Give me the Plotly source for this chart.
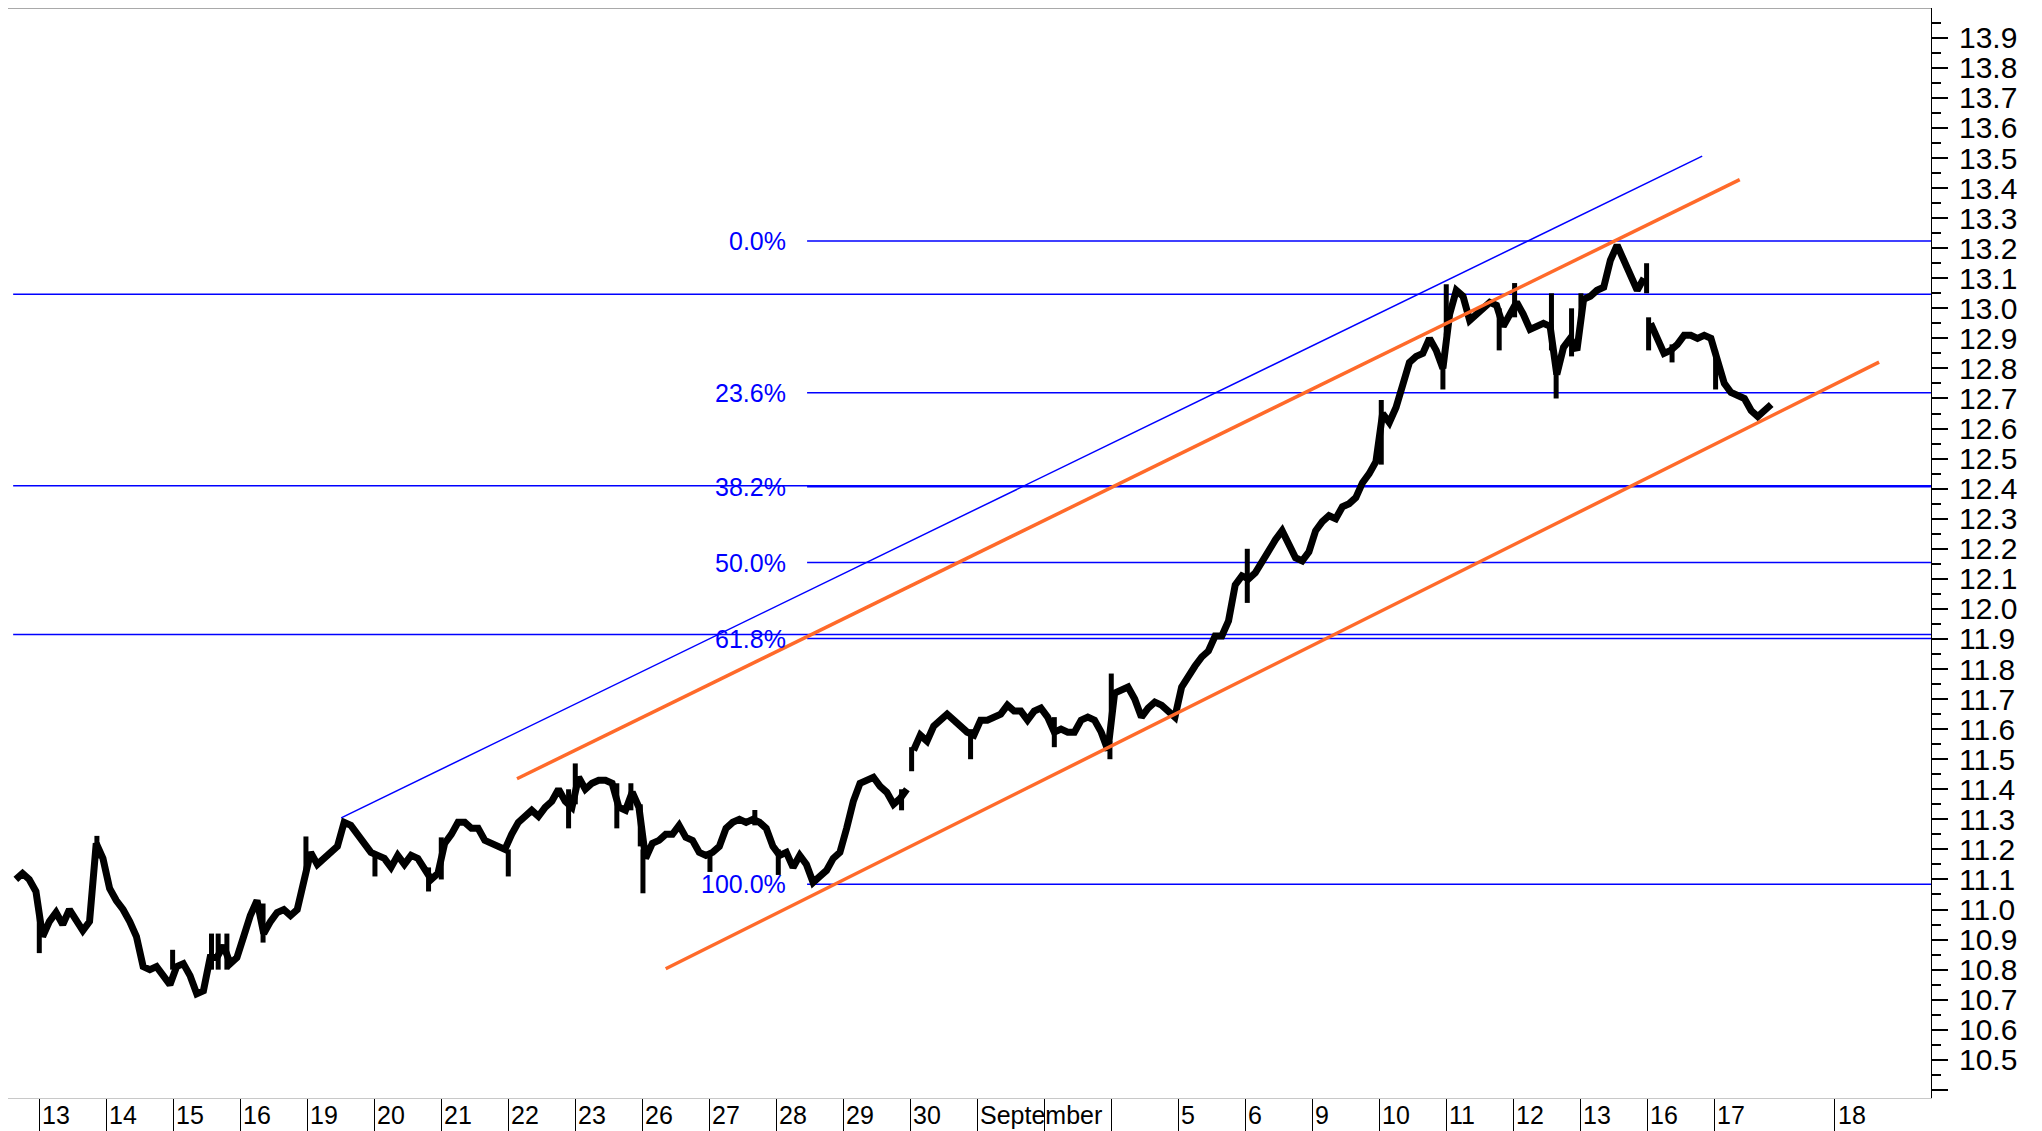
import plotly.graph_objects as go

FONT = "Liberation Sans, Arial, sans-serif"
BLUE = "#0000ff"
ORANGE = "#ff6a2a"

# ---------------- x axis (trading sessions) ----------------
tick_labels = ["13", "14", "15", "16", "19", "20", "21", "22", "23", "26", "27", "28",
               "29", "30", "September", "", "", "5", "6", "9", "10", "11", "12", "13",
               "16", "17", "18"]
tick_positions = [0, 1, 2, 3, 4, 5, 6, 7, 8, 9, 10, 11, 12, 13, 14, 15, 16, 17, 18,
                  19, 20, 21, 22, 23, 24, 25, 26.8]
x_min, x_max = -0.467, 28.235

# ---------------- price path (10 readings per session) ----------------
aug12_tail = [11.10, 11.12, 11.10, 11.06]
aug13 = [10.91, 10.96, 10.99, 10.95, 11.00, 10.96, 10.93, 10.96, 11.22, 11.17]
aug14 = [11.07, 11.03, 11.00, 10.96, 10.91, 10.81, 10.80, 10.81, 10.78, 10.75]
aug15 = [10.81, 10.82, 10.78, 10.72, 10.73, 10.84, 10.84, 10.88, 10.82, 10.84]
aug16 = [10.91, 10.98, 11.03, 10.92, 10.96, 10.99, 11.00, 10.98, 11.00, 11.09]
aug19 = [11.19, 11.15, 11.17, 11.19, 11.21, 11.29, 11.28, 11.25, 11.22, 11.19]
aug20 = [11.18, 11.17, 11.14, 11.18, 11.15, 11.18, 11.17, 11.13, 11.10, 11.12]
aug21 = [11.22, 11.25, 11.29, 11.29, 11.27, 11.27, 11.23, 11.22, 11.21, 11.20]
aug22 = [11.25, 11.29, 11.31, 11.33, 11.31, 11.34, 11.36, 11.40, 11.36, 11.34]
aug23 = [11.44, 11.40, 11.42, 11.43, 11.43, 11.42, 11.34, 11.33, 11.39, 11.34]
aug26 = [11.17, 11.22, 11.23, 11.25, 11.25, 11.28, 11.24, 11.23, 11.19, 11.18]
aug27 = [11.19, 11.21, 11.27, 11.29, 11.30, 11.29, 11.30, 11.29, 11.27, 11.21]
aug28 = [11.18, 11.19, 11.14, 11.18, 11.15, 11.09, 11.11, 11.13, 11.17, 11.19]
aug29 = [11.27, 11.36, 11.42, 11.43, 11.44, 11.41, 11.39, 11.35, 11.37, 11.40]
aug30 = [11.53, 11.58, 11.56, 11.61, 11.63, 11.65, 11.63, 11.61, 11.59, 11.58]
sep02 = [11.63, 11.63, 11.64, 11.65, 11.68, 11.66, 11.66, 11.63, 11.66, 11.67]
sep03 = [11.64, 11.59, 11.60, 11.59, 11.59, 11.63, 11.64, 11.63, 11.59, 11.53]
sep04 = [11.72, 11.73, 11.74, 11.70, 11.64, 11.67, 11.69, 11.68, 11.66, 11.64]
sep05 = [11.74, 11.78, 11.81, 11.84, 11.86, 11.91, 11.91, 11.96, 12.08, 12.11]
sep06 = [12.10, 12.12, 12.16, 12.20, 12.23, 12.26, 12.22, 12.17, 12.16, 12.19]
sep09 = [12.26, 12.29, 12.31, 12.30, 12.34, 12.35, 12.37, 12.42, 12.45, 12.49]
sep10 = [12.65, 12.62, 12.67, 12.75, 12.82, 12.84, 12.85, 12.90, 12.86, 12.80]
sep11 = [12.98, 13.06, 13.04, 12.96, 12.98, 13.00, 13.02, 13.01, 12.94, 12.98]
sep12 = [13.02, 12.98, 12.93, 12.94, 12.95, 12.94, 12.78, 12.87, 12.90, 12.86]
sep13 = [13.03, 13.04, 13.06, 13.07, 13.16, 13.21, 13.16, 13.12, 13.06, 13.10]
sep16 = [12.95, 12.90, 12.85, 12.86, 12.88, 12.91, 12.91, 12.90, 12.91, 12.90]
sep17 = [12.83, 12.75, 12.72, 12.71, 12.70, 12.66, 12.64, 12.66, 12.68]

sessions = [aug13, aug14, aug15, aug16, aug19, aug20, aug21, aug22, aug23, aug26,
            aug27, aug28, aug29, aug30, sep02, sep03, sep04, sep05, sep06, sep09,
            sep10, sep11, sep12, sep13, sep16, sep17]
gap_after = [12, 23]   # sessions after which the line is broken

# intraday spikes (session position, low, high)
spike_x = [0.0, 0.86, 1.99, 2.57, 2.67, 2.80, 3.34, 3.98, 5.01, 5.81, 6.0, 7.0, 7.9,
           8.0, 8.62, 8.83, 8.97, 9.01, 10.01, 10.68, 11.03, 12.87, 13.02, 13.9,
           15.15, 15.98, 16.0, 18.03, 20.03, 20.95, 21.0, 21.79, 22.02, 22.57, 22.64,
           22.87, 23.01, 23.99, 24.02, 24.37, 25.02]
spike_lo = [10.855, 11.17, 10.80, 10.80, 10.80, 10.80, 10.89, 11.13, 11.11, 11.06, 11.10,
            11.11, 11.27, 11.35, 11.27, 11.33, 11.21, 11.054, 11.125, 11.28, 11.115,
            11.33, 11.46, 11.50, 11.54, 11.50, 11.62, 12.02, 12.48, 12.73, 12.91, 12.86,
            12.97, 12.86, 12.70, 12.84, 12.95, 13.05, 12.86, 12.82, 12.73]
spike_hi = [10.98, 11.245, 10.866, 10.92, 10.92, 10.92, 11.02, 11.243, 11.19, 11.14, 11.24,
            11.20, 11.40, 11.486, 11.42, 11.42, 11.35, 11.20, 11.19, 11.331, 11.20,
            11.40, 11.54, 11.60, 11.64, 11.56, 11.785, 12.20, 12.695, 12.81, 13.08, 13.00,
            13.084, 13.05, 12.84, 13.00, 13.05, 13.15, 12.97, 12.88, 12.86]

# ---------------- analysis lines ----------------
fib_high, fib_low = 13.224, 11.084
fib_ratios = [0.0, 0.236, 0.382, 0.5, 0.618, 1.0]
fib_labels = ["0.0%", "23.6%", "38.2%", "50.0%", "61.8%", "100.0%"]
fib_start, fib_label_x = 11.46, 11.17

sr_levels = [13.047, 12.41, 11.915]
sr_start = -0.39

blue_ch_x, blue_ch_y = [4.506, 24.82], [11.305, 13.506]
orange_up_x, orange_up_y = [7.13, 25.38], [11.435, 13.428]
orange_lo_x, orange_lo_y = [9.35, 27.46], [10.803, 12.821]

y_range = [10.373, 13.999]
y_major = [round(10.4 + 0.1 * k, 1) for k in range(36)]
y_minor = [round(10.45 + 0.1 * k, 2) for k in range(36)]
y_text = ["" if v < 10.45 else f"{v:.1f}" for v in y_major]

# ---------------- build path ----------------
px, py = [], []
for k, v in enumerate(aug12_tail):
    px.append(-0.4 + (k + 0.5) / 10)
    py.append(v)
for d, vals in enumerate(sessions):
    for k, v in enumerate(vals):
        px.append(d + (k + 0.5) / 10)
        py.append(v)
    if d in gap_after:
        px.append(None)
        py.append(None)

sx, sy = [], []
for x, lo, hi in zip(spike_x, spike_lo, spike_hi):
    sx += [x, x, None]
    sy += [lo, hi, None]

fig = go.Figure()

# horizontal support / resistance lines
for lv in sr_levels:
    fig.add_trace(go.Scatter(x=[sr_start, x_max + 1], y=[lv, lv], mode="lines",
                             line=dict(color=BLUE, width=1.5), hoverinfo="skip"))
# fibonacci lines
fib_levels = [fib_high - r * (fib_high - fib_low) for r in fib_ratios]
for lv in fib_levels:
    fig.add_trace(go.Scatter(x=[fib_start, x_max + 1], y=[lv, lv], mode="lines",
                             line=dict(color=BLUE, width=1.5), hoverinfo="skip"))

# price
fig.add_trace(go.Scatter(x=sx, y=sy, mode="lines", line=dict(color="black", width=5),
                         hoverinfo="skip"))
fig.add_trace(go.Scatter(x=px, y=py, mode="lines",
                         line=dict(color="black", width=7, shape="linear"),
                         connectgaps=False))

# channels
fig.add_trace(go.Scatter(x=blue_ch_x, y=blue_ch_y, mode="lines",
                         line=dict(color=BLUE, width=1.5)))
fig.add_trace(go.Scatter(x=orange_up_x, y=orange_up_y, mode="lines",
                         line=dict(color=ORANGE, width=3.5)))
fig.add_trace(go.Scatter(x=orange_lo_x, y=orange_lo_y, mode="lines",
                         line=dict(color=ORANGE, width=3.5)))

annotations = []
for lv, lab in zip(fib_levels, fib_labels):
    annotations.append(dict(x=fib_label_x, y=lv, xref="x", yref="y", text=lab,
                            showarrow=False, xanchor="right", yanchor="middle",
                            font=dict(family=FONT, size=25, color=BLUE)))
for pos, lab in zip(tick_positions, tick_labels):
    if lab:
        annotations.append(dict(x=pos, y=0, xref="x", yref="paper", text=lab,
                                showarrow=False, xanchor="left", yanchor="middle",
                                xshift=1, yshift=-17,
                                font=dict(family=FONT, size=25, color="black")))

# the page body adds an 8 px margin, so the figure is 8 px smaller each way
fig.update_layout(
    width=2034, height=1123,
    margin=dict(l=0, r=111, t=0, b=33, pad=0),
    paper_bgcolor="white", plot_bgcolor="white",
    showlegend=False,
    annotations=annotations,
    shapes=[dict(type="line", xref="paper", yref="paper", x0=0, x1=1, y0=1, y1=1,
                 line=dict(color="#555555", width=1))],
    xaxis=dict(range=[x_min, x_max], tickmode="array", tickvals=tick_positions,
               showticklabels=False, ticks="outside", ticklen=33, tickwidth=1,
               tickcolor="black", showline=True, linecolor="#c8c8c8", linewidth=1,
               showgrid=False, zeroline=False),
    yaxis=dict(range=y_range, side="right", tickmode="array", tickvals=y_major,
               ticktext=y_text, ticks="outside", ticklen=16, tickwidth=1.5,
               tickcolor="black", showline=True, linecolor="black", linewidth=1,
               showgrid=False, zeroline=False, ticklabelstandoff=5,
               tickfont=dict(family=FONT, size=30, color="black"),
               minor=dict(tickmode="array", tickvals=y_minor, ticks="outside",
                          ticklen=9, tickwidth=1.5, tickcolor="black", showgrid=False)),
)

fig.write_html("out.html")
